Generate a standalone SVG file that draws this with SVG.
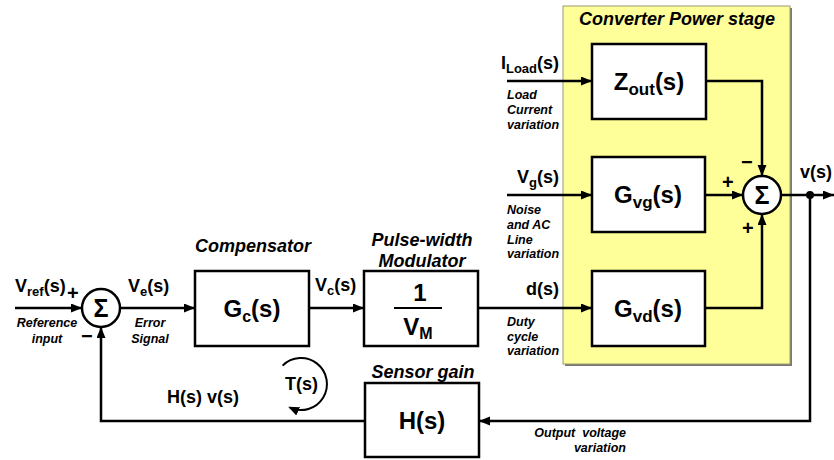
<svg xmlns="http://www.w3.org/2000/svg" width="834" height="460" viewBox="0 0 834 460">
<defs>
<marker id="ah" markerUnits="userSpaceOnUse" markerWidth="12" markerHeight="10" refX="11" refY="4.5" orient="auto">
<path d="M0,0 L11,4.5 L0,9 z" fill="#000"/>
</marker>
<marker id="ah2" markerUnits="userSpaceOnUse" markerWidth="12" markerHeight="10" refX="9" refY="4.5" orient="auto">
<path d="M0,0 L11,4.5 L0,9 z" fill="#000"/>
</marker>
<style>
text{font-family:"Liberation Sans",Arial,sans-serif;font-weight:bold;fill:#000}
.lbl{font-size:18px}
.bx{font-size:24px;text-anchor:middle}
.ttl{font-size:18px;font-style:italic;text-anchor:middle}
.sm{font-size:12.5px;font-style:italic}
.sg{font-size:20px}
.sig{font-size:25px;text-anchor:middle}
.blk{fill:#fff;stroke:#000;stroke-width:2.5}
.sum{fill:#fff;stroke:#000;stroke-width:2.5}
.ln{fill:none;stroke:#000;stroke-width:2.5}
</style>
</defs>
<rect width="834" height="460" fill="#fff"/>

<g id="power-stage">
<rect x="565" y="8" width="227" height="358" fill="#777"/>
<rect x="563" y="6" width="227" height="358" fill="#ffff99" stroke="#9a9a70" stroke-width="1"/>
<text class="ttl" x="677" y="25">Converter Power stage</text>
</g>

<g id="connectors">
<path class="ln" d="M15,308 H82" marker-end="url(#ah)"/>
<path class="ln" d="M120,308 H195" marker-end="url(#ah)"/>
<path class="ln" d="M309,308 H364" marker-end="url(#ah)"/>
<path class="ln" d="M478,308 H592" marker-end="url(#ah)"/>
<path class="ln" d="M507,81 H592" marker-end="url(#ah)"/>
<path class="ln" d="M507,195 H592" marker-end="url(#ah)"/>
<path class="ln" d="M706,81 H762 V176" marker-end="url(#ah)"/>
<path class="ln" d="M705,195 H743" marker-end="url(#ah)"/>
<path class="ln" d="M705,308 H762 V214" marker-end="url(#ah)"/>
<path class="ln" d="M781,195 H834" marker-end="url(#ah)"/>
<circle cx="810" cy="195" r="4" fill="#000"/>
<path class="ln" d="M810,195 V421 H479" marker-end="url(#ah)"/>
<path class="ln" d="M365,421 H101 V327" marker-end="url(#ah)"/>
<path fill="none" stroke="#000" stroke-width="2" d="M282.6,365.6 A26,26 0 1 1 290,407.6" marker-end="url(#ah2)"/>
</g>

<g id="sum1">
<circle class="sum" cx="101" cy="308" r="19"/>
<text class="sig" x="101" y="317">Σ</text>
<text class="sg" x="67" y="300">+</text>
<text class="sg" x="81" y="343">−</text>
</g>

<g id="input-labels">
<text class="lbl" x="15" y="292">V<tspan font-size="13" dy="4">ref</tspan><tspan dy="-4">(s)</tspan></text>
<text class="sm" x="47" y="327" text-anchor="middle">Reference</text>
<text class="sm" x="47" y="343" text-anchor="middle">input</text>
<text class="lbl" x="128" y="292">V<tspan font-size="13" dy="4">e</tspan><tspan dy="-4">(s)</tspan></text>
<text class="sm" x="150" y="327" text-anchor="middle">Error</text>
<text class="sm" x="150" y="343" text-anchor="middle">Signal</text>
</g>

<g id="compensator">
<text class="ttl" x="253" y="252">Compensator</text>
<rect class="blk" x="195" y="271" width="114" height="75"/>
<text class="bx" x="252" y="317">G<tspan font-size="16" dy="5">c</tspan><tspan dy="-5">(s)</tspan></text>
</g>

<text class="lbl" x="315" y="291">V<tspan font-size="13" dy="4">c</tspan><tspan dy="-4">(s)</tspan></text>

<g id="modulator">
<text class="ttl" x="422" y="246">Pulse-width</text>
<text class="ttl" x="422" y="267">Modulator</text>
<rect class="blk" x="364" y="271" width="114" height="75"/>
<text class="bx" x="420" y="301">1</text>
<line x1="394" y1="308" x2="442" y2="308" stroke="#000" stroke-width="2"/>
<text class="bx" x="418" y="335">V<tspan font-size="16" dy="4">M</tspan></text>
</g>

<g id="input-labels-2">
<text class="lbl" x="559" y="69" text-anchor="end">I<tspan font-size="13" dy="4">Load</tspan><tspan dy="-4">(s)</tspan></text>
<text class="sm" x="507" y="99">Load</text>
<text class="sm" x="507" y="114">Current</text>
<text class="sm" x="507" y="129">variation</text>
<text class="lbl" x="559" y="183" text-anchor="end">V<tspan font-size="13" dy="4">g</tspan><tspan dy="-4">(s)</tspan></text>
<text class="sm" x="507" y="214">Noise</text>
<text class="sm" x="507" y="229">and AC</text>
<text class="sm" x="507" y="244">Line</text>
<text class="sm" x="507" y="258">variation</text>
<text class="lbl" x="559" y="295" text-anchor="end">d(s)</text>
<text class="sm" x="507" y="326">Duty</text>
<text class="sm" x="507" y="341">cycle</text>
<text class="sm" x="507" y="355">variation</text>
</g>

<g id="zout">
<rect class="blk" x="592" y="44" width="114" height="75"/>
<text class="bx" x="649" y="90">Z<tspan font-size="17" dy="5">out</tspan><tspan dy="-5">(s)</tspan></text>
</g>

<g id="gvg">
<rect class="blk" x="592" y="157" width="113" height="75"/>
<text class="bx" x="648" y="203">G<tspan font-size="17" dy="5">vg</tspan><tspan dy="-5">(s)</tspan></text>
</g>

<g id="gvd">
<rect class="blk" x="592" y="271" width="113" height="75"/>
<text class="bx" x="648" y="317">G<tspan font-size="17" dy="5">vd</tspan><tspan dy="-5">(s)</tspan></text>
</g>

<g id="sum2">
<circle class="sum" cx="762" cy="195" r="19"/>
<text class="sig" x="762" y="204">Σ</text>
<text class="sg" x="741" y="169">−</text>
<text class="sg" x="722" y="189">+</text>
<text class="sg" x="742" y="235">+</text>
</g>

<text class="lbl" x="800" y="178">v(s)</text>

<g id="sensor">
<text class="ttl" x="423" y="378">Sensor gain</text>
<rect class="blk" x="365" y="383" width="114" height="74"/>
<text class="bx" x="422" y="429">H(s)</text>
</g>

<g id="loop-labels">
<text class="lbl" x="167" y="403">H(s) v(s)</text>
<text class="lbl" x="285" y="390">T(s)</text>
<text class="sm" x="626" y="437" text-anchor="end" style="white-space:pre">Output  voltage</text>
<text class="sm" x="626" y="452" text-anchor="end">variation</text>
</g>
</svg>
